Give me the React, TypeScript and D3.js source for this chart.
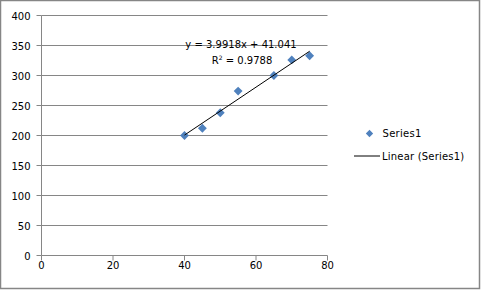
import React from "react";
import * as d3 from "d3";

const xValues = [40, 45, 50, 55, 65, 70, 75];
const yValues = [200, 212, 238, 274, 300, 326, 333];
const xTicks = [0, 20, 40, 60, 80];
const yTicks = [0, 50, 100, 150, 200, 250, 300, 350, 400];
const slope = 3.9918;
const intercept = 41.041;
const equationLabel = "y = 3.9918x + 41.041";
const r2Value = "0.9788";
const seriesName = "Series1";
const trendName = "Linear (Series1)";

const W = 481;
const H = 290;
const FONT = "DejaVu Sans, Verdana, sans-serif";
const GRAY = "#868686";
const BLUE = "#4F81BD";

export default function App() {
  const x = d3.scaleLinear().domain([0, 80]).range([41.5, 327.5]);
  const y = d3.scaleLinear().domain([0, 400]).range([255.5, 15.5]);
  const diamond = d3.symbol().type(d3.symbolDiamond2).size(50)();
  const legendDiamond = d3.symbol().type(d3.symbolDiamond2).size(34)();
  const x0 = d3.min(xValues) as number;
  const x1 = d3.max(xValues) as number;
  const line = d3.line<number>().x((d) => x(d)).y((d) => y(slope * d + intercept));

  return (
    <svg
      width={W}
      height={H}
      style={{ position: "absolute", left: 0, top: 0, background: "#fff" }}
      fontFamily={FONT}
    >
      <rect x={0.5} y={0.5} width={479} height={288} fill="#fff" stroke={GRAY} strokeWidth={1.5} />
      {yTicks.map((t) => (
        <g key={"y" + t}>
          {t > 0 && (
            <line x1={x(0)} x2={x(80)} y1={y(t)} y2={y(t)} stroke={GRAY} strokeWidth={1} />
          )}
          <line x1={x(0) - 5} x2={x(0)} y1={y(t)} y2={y(t)} stroke={GRAY} strokeWidth={1} />
          <text x={x(0) - 11} y={y(t) + 4} fontSize={10} textAnchor="end" fill="#000">
            {t}
          </text>
        </g>
      ))}
      <line x1={x(0)} x2={x(0)} y1={y(0)} y2={y(400)} stroke={GRAY} strokeWidth={1} />
      <line x1={x(0)} x2={x(80)} y1={y(0)} y2={y(0)} stroke={GRAY} strokeWidth={1} />
      {xTicks.map((t) => (
        <g key={"x" + t}>
          <line x1={x(t)} x2={x(t)} y1={y(0)} y2={y(0) + 5} stroke={GRAY} strokeWidth={1} />
          <text x={x(t)} y={269} fontSize={10} textAnchor="middle" fill="#000">
            {t}
          </text>
        </g>
      ))}
      {xValues.map((v, i) => (
        <path key={"p" + i} d={diamond || ""} transform={`translate(${x(v)},${y(yValues[i])})`} fill={BLUE} />
      ))}
      <path d={line([x0, x1]) || ""} fill="none" stroke="#000" strokeWidth={1} />
      <text x={241} y={47.5} fontSize={10} textAnchor="middle" fill="#000">
        {equationLabel}
      </text>
      <text x={242} y={63.5} fontSize={10} textAnchor="middle" fill="#000">
        R<tspan dy={-4} fontSize={6}>2</tspan>
        <tspan dy={4}> = {r2Value}</tspan>
      </text>
      <path d={legendDiamond || ""} transform={`translate(369.5,133.5)`} fill={BLUE} />
      <text x={382.5} y={137} fontSize={10} letterSpacing={0.3} fill="#000">
        {seriesName}
      </text>
      <line x1={354} x2={380} y1={156} y2={156} stroke="#000" strokeWidth={1} />
      <text x={382} y={160} fontSize={10} letterSpacing={0.2} fill="#000">
        {trendName}
      </text>
    </svg>
  );
}
